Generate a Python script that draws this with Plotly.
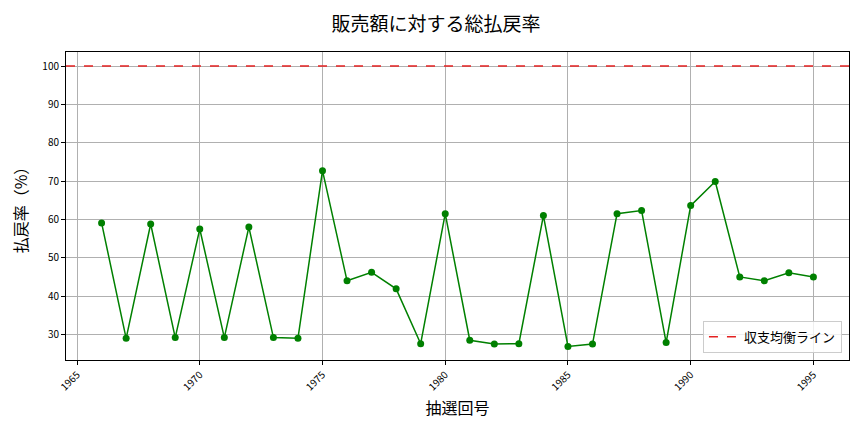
import plotly.graph_objects as go

draws = list(range(1966, 1996))
rates = [59.1, 29.0, 58.8, 29.2, 57.5, 29.2, 58.0, 29.2, 29.0, 72.7,
         44.0, 46.2, 41.9, 27.6, 61.5, 28.5, 27.5, 27.6, 61.0, 26.9,
         27.5, 61.5, 62.3, 27.9, 63.6, 69.9, 45.0, 44.0, 46.1, 45.0]
breakeven = 100
x_ticks = [1965, 1970, 1975, 1980, 1985, 1990, 1995]
y_ticks = [30, 40, 50, 60, 70, 80, 90, 100]

FONT = "Noto Sans CJK JP"

fig = go.Figure()
fig.add_trace(go.Scatter(
    x=draws, y=rates, mode="lines+markers",
    line=dict(color="green", width=1.5),
    marker=dict(color="green", size=7),
    showlegend=False,
))
fig.add_trace(go.Scatter(
    x=[1964.55, 1996.45], y=[breakeven, breakeven], mode="lines",
    line=dict(color="#e32222", width=1.5, dash="dash"),
    name="収支均衡ライン",
))

fig.update_layout(
    width=856, height=424,
    margin=dict(l=58, r=15, t=44, b=72, autoexpand=False),
    paper_bgcolor="white", plot_bgcolor="white",
    font=dict(family=FONT, color="black"),
    title=dict(text="販売額に対する総払戻率", x=0.5, xanchor="center",
               y=0.962, yanchor="middle", font=dict(size=19, family=FONT)),
    legend=dict(x=0.991, y=0.023, xanchor="right", yanchor="bottom",
                bgcolor="rgba(255,255,255,0.8)", bordercolor="#cccccc",
                borderwidth=1, font=dict(size=13, family=FONT),
                tracegroupgap=0),
)
fig.update_xaxes(
    range=[1964.55, 1996.45], tickvals=x_ticks, tickangle=-45,
    tickfont=dict(size=10), showgrid=True, gridcolor="#b0b0b0", gridwidth=1,
    showline=True, linecolor="black", linewidth=1, mirror=True,
    ticks="outside", ticklen=4, tickcolor="black", zeroline=False,
    automargin=False,
    title=dict(text="抽選回号", font=dict(size=16), standoff=10),
)
fig.update_yaxes(
    range=[23.35, 103.65], tickvals=y_ticks,
    tickfont=dict(size=10), showgrid=True, gridcolor="#b0b0b0", gridwidth=1,
    showline=True, linecolor="black", linewidth=1, mirror=True,
    ticks="outside", ticklen=4, tickcolor="black", zeroline=False,
    automargin=False,
    title=dict(text="払戻率（%）", font=dict(size=16), standoff=12),
)

fig.write_html("out.html")
